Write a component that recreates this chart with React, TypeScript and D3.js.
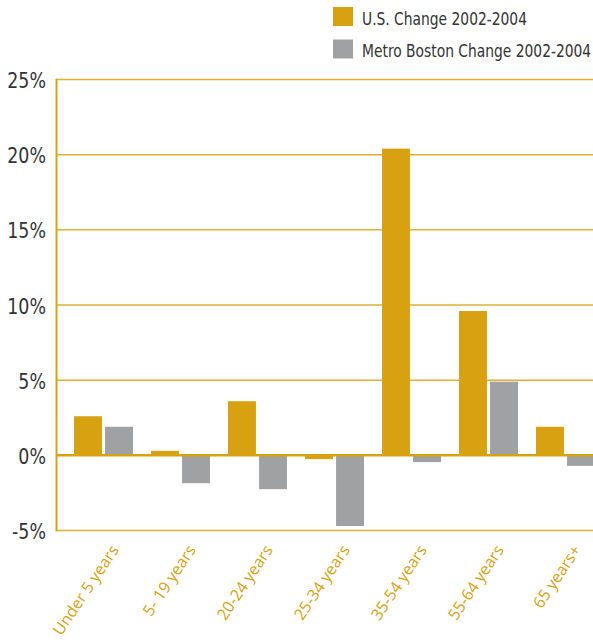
import React, { useEffect, useRef } from 'react';
import * as d3 from 'd3';

const categories = ['Under 5 years', '5- 19 years', '20-24 years', '25-34 years', '35-54 years', '55-64 years', '65 years+'];
const seriesNames = ['U.S. Change 2002-2004', 'Metro Boston Change 2002-2004'];
const usChange = [2.6, 0.3, 3.6, -0.25, 20.4, 9.6, 1.9];
const bostonChange = [1.9, -1.85, -2.25, -4.7, -0.45, 4.9, -0.7];
const yTicks = [-5, 0, 5, 10, 15, 20, 25];

const GOLD = '#d7a111';
const GREY = '#a0a1a3';
const colors = [GOLD, GREY];

const App: React.FC = () => {
  const svgRef = useRef<SVGSVGElement | null>(null);

  useEffect(() => {
    if (!svgRef.current) return;
    const width = 593;
    const height = 643;
    const svg = d3.select(svgRef.current).attr('width', width).attr('height', height);
    svg.selectAll('*').remove();

    // condensed look: DejaVu Sans Condensed squeezed a bit more
    const narrow = "'DejaVu Sans Condensed', 'DejaVu Sans', sans-serif";
    const squeeze = 0.88;
    const axisLeft = 56.5;

    const y = d3.scaleLinear().domain([-5, 25]).range([530.5, 79.5]);
    const x0 = d3.scaleBand<string>().domain(categories).range([65, 604]);
    const x1 = d3.scaleBand<string>().domain(seriesNames).range([9, 68]).paddingInner(0.1);

    // gridlines
    svg.append('g')
      .selectAll('line')
      .data(yTicks.filter(t => t !== 0))
      .enter()
      .append('line')
      .attr('x1', axisLeft)
      .attr('x2', width)
      .attr('y1', d => y(d))
      .attr('y2', d => y(d))
      .attr('stroke', GOLD)
      .attr('stroke-opacity', 0.85)
      .attr('stroke-width', 1.5);

    // bars
    const rows = categories.map((c, i) => ({ cat: c, values: [usChange[i], bostonChange[i]] }));
    const groups = svg.append('g')
      .selectAll('g')
      .data(rows)
      .enter()
      .append('g')
      .attr('transform', d => `translate(${x0(d.cat)},0)`);

    groups.selectAll('rect')
      .data(d => d.values.map((v, j) => ({ key: seriesNames[j], v, j })))
      .enter()
      .append('rect')
      .attr('x', d => x1(d.key) || 0)
      .attr('width', x1.bandwidth())
      .attr('y', d => y(Math.max(0, d.v)))
      .attr('height', d => Math.abs(y(d.v) - y(0)))
      .attr('fill', d => colors[d.j]);

    // zero line
    svg.append('line')
      .attr('x1', axisLeft)
      .attr('x2', width)
      .attr('y1', y(0))
      .attr('y2', y(0))
      .attr('stroke', GOLD)
      .attr('stroke-width', 2.5);

    // left axis
    svg.append('line')
      .attr('x1', axisLeft)
      .attr('x2', axisLeft)
      .attr('y1', y(25) - 0.75)
      .attr('y2', y(-5) + 0.75)
      .attr('stroke', GOLD)
      .attr('stroke-width', 2);

    // y labels
    svg.append('g')
      .selectAll('text')
      .data(yTicks)
      .enter()
      .append('text')
      .attr('transform', d => `translate(46,${y(d) + 8.5}) scale(${squeeze},1)`)
      .attr('text-anchor', 'end')
      .style('font-family', narrow)
      .style('font-size', '22px')
      .attr('fill', '#333')
      .text(d => `${d}%`);

    // x labels
    svg.append('g')
      .selectAll('text')
      .data(categories)
      .enter()
      .append('text')
      .attr('transform', d => `translate(${(x0(d) || 0) + x0.bandwidth() / 2 + 16},${550}) rotate(-56)`)
      .attr('text-anchor', 'end')
      .style('font-family', "'Open Sans', sans-serif")
      .style('font-size', '16px')
      .attr('fill', GOLD)
      .text(d => d);

    // legend
    const legend = svg.append('g')
      .selectAll('g')
      .data(seriesNames)
      .enter()
      .append('g')
      .attr('transform', (_, i) => `translate(333,${7 + i * 32.5})`);
    legend.append('rect')
      .attr('width', 20)
      .attr('height', 19)
      .attr('fill', (_, i) => colors[i]);
    legend.append('text')
      .attr('transform', `translate(29,17.5) scale(${squeeze},1)`)
      .style('font-family', narrow)
      .style('font-size', '17.5px')
      .attr('fill', '#333')
      .text(d => d);
  }, []);

  return <svg ref={svgRef} style={{ position: 'absolute', left: 0, top: 0 }} />;
};

export default App;
